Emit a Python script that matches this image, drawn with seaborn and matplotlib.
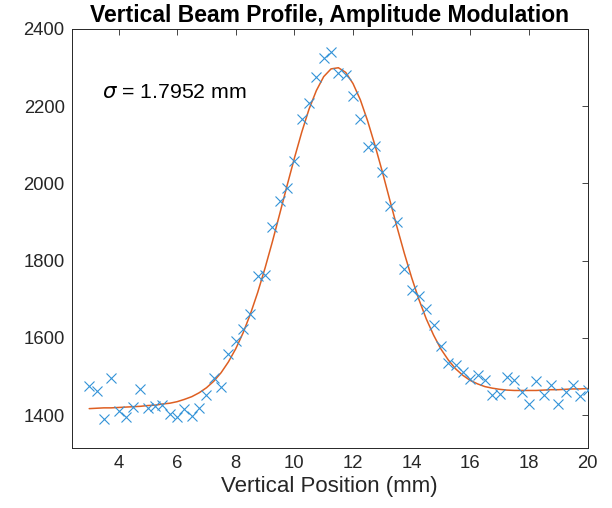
import numpy as np
import pandas as pd
import matplotlib
matplotlib.use("Agg")
import matplotlib.pyplot as plt
import seaborn as sns

# ---- data ----
position_mm = [3.0 + 0.25 * i for i in range(69)]
counts = [1475, 1462, 1389, 1497, 1410, 1396, 1421, 1469, 1419, 1423,
          1426, 1402, 1396, 1417, 1399, 1419, 1452, 1497, 1472, 1559,
          1591, 1623, 1663, 1759, 1762, 1886, 1955, 1989, 2058, 2167,
          2207, 2276, 2325, 2341, 2286, 2280, 2227, 2167, 2095, 2097,
          2028, 1942, 1900, 1779, 1725, 1709, 1675, 1633, 1578, 1535,
          1531, 1511, 1494, 1503, 1492, 1451, 1454, 1499, 1490, 1459,
          1430, 1489, 1453, 1478, 1428, 1459, 1478, 1449, 1466]
fit_values = [1417, 1418, 1419, 1419, 1420, 1421, 1422, 1423, 1425, 1426,
              1429, 1431, 1435, 1441, 1448, 1458, 1471, 1488, 1510, 1538,
              1572, 1613, 1662, 1718, 1781, 1849, 1921, 1994, 2065, 2132,
              2192, 2240, 2276, 2296, 2299, 2287, 2258, 2216, 2161, 2098,
              2030, 1958, 1887, 1819, 1756, 1699, 1649, 1607, 1571, 1543,
              1520, 1503, 1490, 1481, 1474, 1470, 1467, 1465, 1464, 1464,
              1464, 1464, 1465, 1466, 1466, 1467, 1468, 1468, 1469]
x_ticks = [4, 6, 8, 10, 12, 14, 16, 18, 20]
y_ticks = [1400, 1600, 1800, 2000, 2200, 2400]
sigma_label = r"$\sigma$ = 1.7952 mm"

df_points = pd.DataFrame({"pos": position_mm, "val": counts})
df_fit = pd.DataFrame({"pos": position_mm, "val": fit_values})

sns.set_theme(style="white")
plt.rcParams["font.family"] = ["Liberation Sans", "DejaVu Sans"]
plt.rcParams["mathtext.fontset"] = "dejavusans"

fig = plt.figure(figsize=(6.12, 5.08), dpi=100)
ax = fig.add_axes([0.117, 0.118, 0.843, 0.8255])

axis_color = "#262626"
sns.lineplot(data=df_fit, x="pos", y="val", ax=ax, color="#DE5F22",
             linewidth=1.1, zorder=2, sort=False)
ax.plot(df_points["pos"], df_points["val"], linestyle="none", marker="x",
        markersize=7.5, markeredgewidth=0.8, color="#3393D8", zorder=3)

ax.set_xlim(2.4, 20)
ax.set_ylim(1315, 2400)
ax.set_xticks(x_ticks)
ax.set_yticks(y_ticks)
ax.tick_params(direction="in", length=4, width=0.6, top=True, right=True,
               labelsize=13.3, colors=axis_color, pad=5)
for s in ax.spines.values():
    s.set_color(axis_color)
    s.set_linewidth(0.7)

ax.set_xlabel("Vertical Position (mm)", fontsize=16, color=axis_color, labelpad=3)
ax.set_ylabel("")
ax.set_title("Vertical Beam Profile, Amplitude Modulation", fontsize=16.5,
             fontweight="bold", color="black", pad=5)
ax.text(3.45, 2236, sigma_label, fontsize=15.3, ha="left", va="center", color="black")

fig.savefig("out.png", dpi=100)
